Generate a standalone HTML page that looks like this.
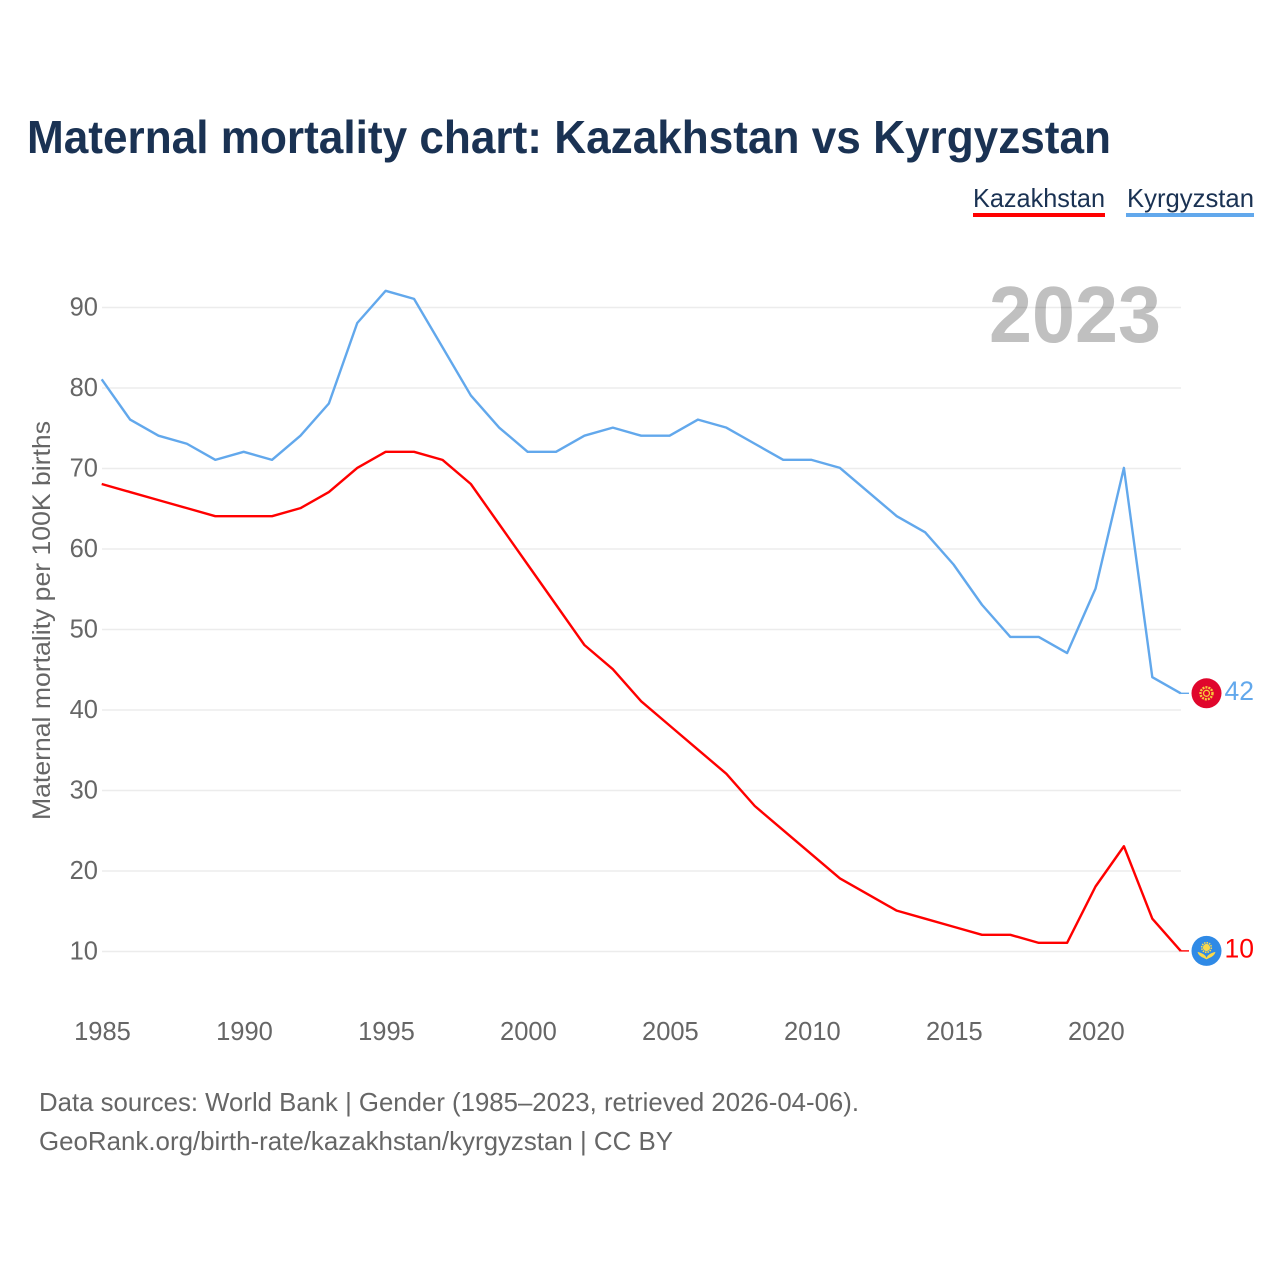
<!DOCTYPE html>
<html lang="en">
<head>
<meta charset="utf-8">
<title>Maternal mortality chart: Kazakhstan vs Kyrgyzstan</title>
<style>
html,body{margin:0;padding:0;background:#fff;width:1280px;height:1280px;overflow:hidden}
svg{display:block;font-family:"Liberation Sans",sans-serif}
</style>
</head>
<body>
<svg id="chart" xmlns="http://www.w3.org/2000/svg" width="1280" height="1280" viewBox="0 0 1280 1280">
<rect x="0" y="0" width="1280" height="1280" fill="#fff"/>
<text x="27" y="153" font-size="46" font-weight="700" fill="#1a3253" textLength="1084" lengthAdjust="spacingAndGlyphs">Maternal mortality chart: Kazakhstan vs Kyrgyzstan</text>
<g>
<text x="973" y="207" font-size="26" fill="#1a3253" textLength="132" lengthAdjust="spacingAndGlyphs">Kazakhstan</text>
<rect x="973" y="213" width="132" height="4" fill="#ff0000"/>
</g>
<g>
<text x="1127" y="207" font-size="26" fill="#1a3253" textLength="127" lengthAdjust="spacingAndGlyphs">Kyrgyzstan</text>
<rect x="1126" y="213" width="128" height="4" fill="#62a8ec"/>
</g>
<text id="yearlabel" x="989" y="342" font-size="80" font-weight="700" fill="#c0c0c0" textLength="172" lengthAdjust="spacingAndGlyphs"></text>
<g id="grid"></g>
<g id="ytickgroup"></g>
<g id="xtickgroup"></g>
<text transform="translate(50,820) rotate(-90)" x="0" y="0" font-size="25" fill="#666" textLength="399" lengthAdjust="spacingAndGlyphs">Maternal mortality per 100K births</text>
<g id="lines"></g>
<g id="endmarks"></g>
<text x="39" y="1111" font-size="26" fill="#666" textLength="820" lengthAdjust="spacingAndGlyphs">Data sources: World Bank | Gender (1985–2023, retrieved 2026-04-06).</text>
<text x="39" y="1150" font-size="26" fill="#666" textLength="634" lengthAdjust="spacingAndGlyphs">GeoRank.org/birth-rate/kazakhstan/kyrgyzstan | CC BY</text>
</svg>
<script>
const years = [1985,1986,1987,1988,1989,1990,1991,1992,1993,1994,1995,1996,1997,1998,1999,2000,2001,2002,2003,2004,2005,2006,2007,2008,2009,2010,2011,2012,2013,2014,2015,2016,2017,2018,2019,2020,2021,2022,2023];
const kazakhstanValues = [68,67,66,65,64,64,64,65,67,70,72,72,71,68,63,58,53,48,45,41,38,35,32,28,25,22,19,17,15,14,13,12,12,11,11,18,23,14,10];
const kyrgyzstanValues = [81,76,74,73,71,72,71,74,78,88,92,91,85,79,75,72,72,74,75,74,74,76,75,73,71,71,70,67,64,62,58,53,49,49,47,55,70,44,42];
const yTickValues = [10,20,30,40,50,60,70,80,90];
const xTickValues = [1985,1990,1995,2000,2005,2010,2015,2020];

const NS = 'http://www.w3.org/2000/svg';
const plotLeft = 102, plotRight = 1181;
function xScale(year) {
  const first = years[0], last = years[years.length - 1];
  return plotLeft + (year - first) * (plotRight - plotLeft) / (last - first);
}
function yScale(value) {
  return 951.5 - (value - 10) * 8.05;
}
function make(parent, tag, attrs, text) {
  const el = document.createElementNS(NS, tag);
  for (const k in attrs) el.setAttribute(k, attrs[k]);
  if (text !== undefined) el.textContent = text;
  parent.appendChild(el);
  return el;
}

const grid = document.getElementById('grid');
const ytickgroup = document.getElementById('ytickgroup');
const xtickgroup = document.getElementById('xtickgroup');
yTickValues.forEach(function (v) {
  const line = make(grid, 'line', {x1: plotLeft, x2: plotRight, y1: yScale(v), y2: yScale(v), stroke: 'rgba(0,0,0,0.075)', 'stroke-width': 1.5});
  
  
  const label = make(ytickgroup, 'text', {x: 98, y: yScale(v) + 8, 'text-anchor': 'end', 'font-size': 25.5, fill: '#666'}, String(v));
  
  
});
xTickValues.forEach(function (yr) {
  const label = make(xtickgroup, 'text', {x: xScale(yr) + 0.5, y: 1040, 'text-anchor': 'middle', 'font-size': 25.5, fill: '#666'}, String(yr));
  
  
});

document.getElementById('yearlabel').textContent = String(years[years.length - 1]);

const lines = document.getElementById('lines');
const endmarks = document.getElementById('endmarks');
function drawSeries(values, color, key) {
  const pts = values.map(function (v, i) { return (xScale(years[i]) - 0.3).toFixed(2) + ',' + (yScale(v) - 0.6).toFixed(2); });
  const endY = yScale(values[values.length - 1]) - 0.6;
  const line = make(lines, 'polyline', {points: pts.join(' '), fill: 'none', stroke: color, 'stroke-width': 2.4, 'stroke-linejoin': 'round'});
  
  
  const connector = make(lines, 'line', {x1: plotRight - 0.5, x2: plotRight + 8, y1: endY, y2: endY, stroke: color, 'stroke-width': 1.4});
  
  
  const label = make(endmarks, 'text', {x: 1254, y: endY + 6.5, 'text-anchor': 'end', 'font-size': 26.5, fill: color}, String(values[values.length - 1]));
  
  
  return endY;
}
const kzY = drawSeries(kazakhstanValues, '#ff0000', 'kazakhstan');
const kgY = drawSeries(kyrgyzstanValues, '#62a8ec', 'kyrgyzstan');

const kzFlag = make(endmarks, 'g', {transform: 'translate(1206.5,' + kzY + ')'});


make(kzFlag, 'circle', {r: 15, cx: 0, cy: 0, fill: '#2f8ae6'});
make(kzFlag, 'circle', {r: 4.8, cx: 0, cy: -3.4, fill: 'none', stroke: '#fbd94a', 'stroke-width': 1.6, 'stroke-dasharray': '1.5 1'});
make(kzFlag, 'circle', {r: 3.6, cx: 0, cy: -3.4, fill: '#fbd94a'});
make(kzFlag, 'path', {d: 'M-9 1 Q-4 2 -1 5 L0 7 L1 5 Q4 2 9 1 Q8 5 3 7 L0 8.5 L-3 7 Q-8 5 -9 1 Z', fill: '#fbd94a'});

const kgFlag = make(endmarks, 'g', {transform: 'translate(1206.5,' + kgY + ')'});


make(kgFlag, 'circle', {r: 15, cx: 0, cy: 0, fill: '#e0062c'});
make(kgFlag, 'circle', {r: 6, cx: 0, cy: 0, fill: 'none', stroke: '#f9c93c', 'stroke-width': 2.4, 'stroke-dasharray': '2 1'});
make(kgFlag, 'circle', {r: 3, cx: 0, cy: 0, fill: 'none', stroke: '#f9c93c', 'stroke-width': 1.3});
</script>
</body>
</html>
